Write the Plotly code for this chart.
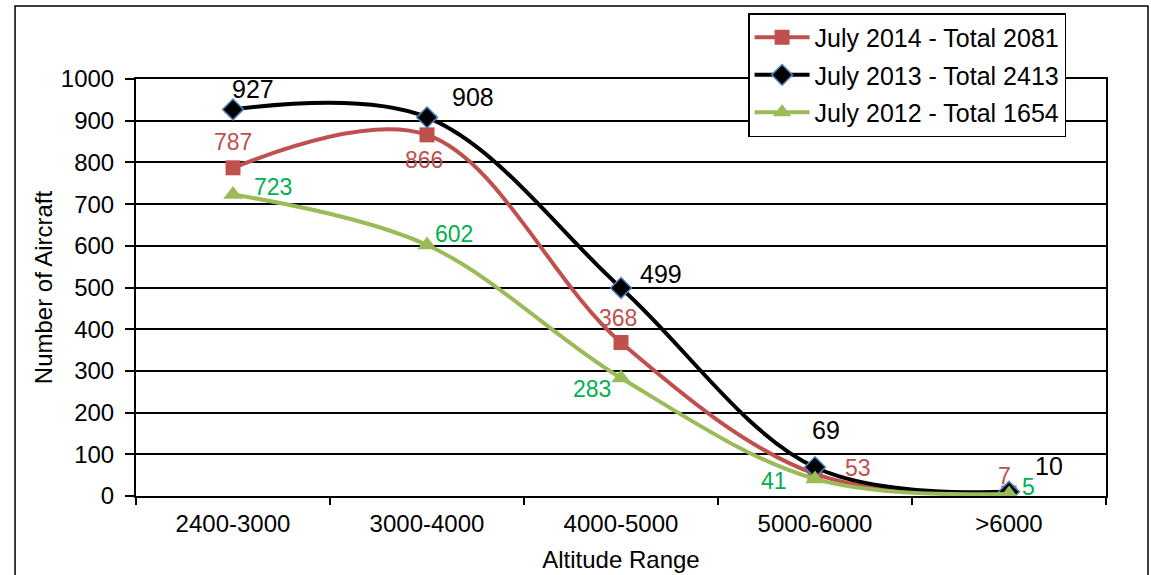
import plotly.graph_objects as go

categories = ["2400-3000", "3000-4000", "4000-5000", "5000-6000", ">6000"]
y2014 = [787, 866, 368, 53, 7]
y2013 = [927, 908, 499, 69, 10]
y2012 = [723, 602, 283, 41, 5]
names = ["July 2014 - Total 2081", "July 2013 - Total 2413", "July 2012 - Total 1654"]
y_ticks = [0, 100, 200, 300, 400, 500, 600, 700, 800, 900, 1000]

# label offsets (px) per point
off2014 = [(0, 26), (-3, -25), (-3, 25), (43, 6), (-5, 17)]
off2013 = [(20, 20), (46, 20), (40, 14), (11, 37), (40, 26)]
off2012 = [(40, 8), (27, 11), (-29, -11), (-41, -2), (19, 7)]

FONT = "Liberation Sans, Arial, sans-serif"
RED = "#C0504D"
GREEN = "#9BBB59"
RED_TXT = "#C0504D"
GREEN_TXT = "#00B050"

fig = go.Figure()
fig.add_trace(go.Scatter(
    x=categories, y=y2014, name=names[0], mode="lines+markers", legendgroup="a",
    line=dict(color=RED, width=4, shape="spline", smoothing=1.0),
    marker=dict(symbol="square", size=15, color=RED, line=dict(width=0)),
))
fig.add_trace(go.Scatter(
    x=categories, y=y2013, name=names[1], mode="lines+markers", legendgroup="b",
    line=dict(color="black", width=4, shape="spline", smoothing=1.0),
    marker=dict(symbol="diamond", size=16, color="black", line=dict(width=1.5, color="#4F81BD")),
))
fig.add_trace(go.Scatter(
    x=categories, y=y2012, name=names[2], mode="lines+markers", legendgroup="c",
    line=dict(color=GREEN, width=4, shape="spline", smoothing=1.0),
    marker=dict(symbol="triangle-up", size=17, color=GREEN, line=dict(width=0)),
))

annotations = []
for vals, offs, col, fs in [(y2014, off2014, RED_TXT, 23), (y2013, off2013, "black", 25), (y2012, off2012, GREEN_TXT, 23)]:
    for c, v, (dx, dy) in zip(categories, vals, offs):
        annotations.append(dict(x=c, y=v, text=str(v), showarrow=False, xshift=dx, yshift=dy,
                                font=dict(family=FONT, size=fs, color=col)))

fig.update_layout(
    width=1151, height=575,
    margin=dict(l=136, r=45, t=79, b=79, autoexpand=False),
    paper_bgcolor="white", plot_bgcolor="white",
    font=dict(family=FONT, size=24, color="black"),
    showlegend=True,
    legend=dict(x=0.631, y=1.158, xanchor="left", yanchor="top",
                bgcolor="white", bordercolor="black", borderwidth=1.5,
                font=dict(family=FONT, size=25, color="black"),
                tracegroupgap=2, itemwidth=55),
    annotations=annotations,
    shapes=[dict(type="rect", xref="paper", yref="paper", x0=-0.1247, x1=1.0433, y0=-0.3, y1=1.175,
                 line=dict(color="black", width=1.5), fillcolor="rgba(0,0,0,0)", layer="below")],
)
fig.update_xaxes(
    type="category", range=[-0.5, 4.5], showline=True, linecolor="black", linewidth=2,
    mirror=True, showgrid=False, ticks="outside", tickson="boundaries", ticklen=7,
    tickcolor="black", tickwidth=1.5, tickfont=dict(size=24), ticklabelstandoff=5,
    automargin=False,
    title=dict(text="Altitude Range", font=dict(size=24), standoff=15),
)
fig.update_yaxes(
    range=[0, 1000], tickvals=y_ticks, showline=True, linecolor="black", linewidth=2,
    mirror=True, showgrid=True, gridcolor="black", gridwidth=1.5, ticks="outside", ticklen=9,
    tickcolor="black", tickwidth=1.5, tickfont=dict(size=24), zeroline=False, ticklabelstandoff=6,
    automargin=False,
    title=dict(text="Number of Aircraft", font=dict(size=24), standoff=1),
)

fig.write_html("out.html", config={"displayModeBar": False},
               post_script="document.body.style.margin='0';document.body.style.overflow='hidden';")
